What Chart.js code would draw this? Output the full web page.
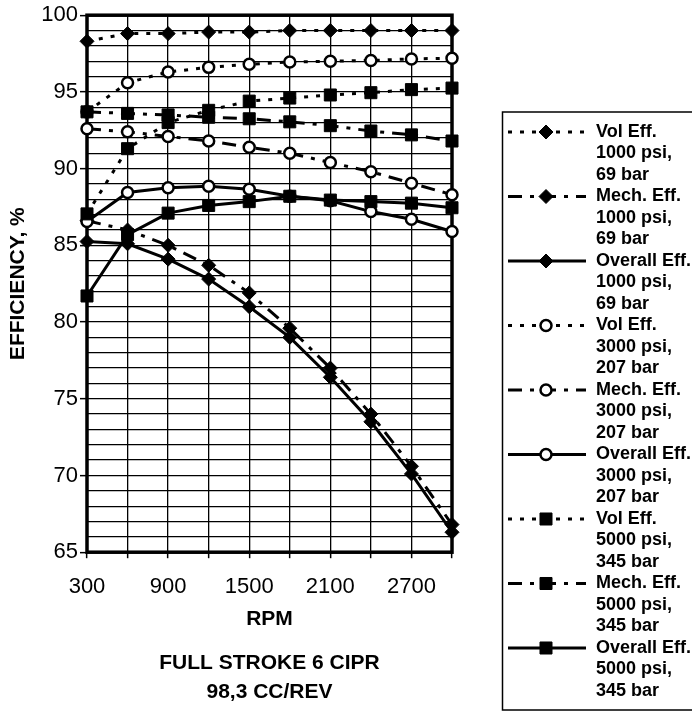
<!DOCTYPE html>
<html>
<head>
<meta charset="utf-8">
<script src="https://cdn.jsdelivr.net/npm/chart.js@4.4.1/dist/chart.umd.min.js"></script>
<style>
  html, body { margin: 0; padding: 0; background: #fff; }
</style>
</head>
<body>
<canvas id="chart" width="692" height="712"></canvas>
<script>
// Pump efficiency vs speed, three pressures (Chart.js).

const rpm = ['300', '600', '900', '1200', '1500', '1800', '2100', '2400', '2700', '3000'];

const vol1000     = [98.3, 98.8, 98.8, 98.9, 98.9, 99.0, 99.0, 99.0, 99.0, 99.0];
const mech1000    = [86.6, 86.0, 85.0, 83.7, 81.9, 79.6, 77.0, 74.0, 70.6, 66.8];
const overall1000 = [85.25, 85.1, 84.1, 82.8, 81.0, 79.0, 76.4, 73.5, 70.1, 66.3];

const vol3000     = [93.7, 95.6, 96.3, 96.6, 96.8, 96.95, 97.0, 97.05, 97.15, 97.2];
const mech3000    = [92.6, 92.4, 92.1, 91.8, 91.4, 91.0, 90.4, 89.8, 89.05, 88.3];
const overall3000 = [86.55, 88.45, 88.75, 88.85, 88.65, 88.2, 87.9, 87.2, 86.7, 85.9];

const vol5000     = [87.05, 91.3, 93.0, 93.8, 94.4, 94.6, 94.8, 94.95, 95.15, 95.25];
const mech5000    = [93.7, 93.6, 93.5, 93.35, 93.25, 93.05, 92.8, 92.45, 92.2, 91.8];
const overall5000 = [81.7, 85.7, 87.1, 87.6, 87.85, 88.2, 87.95, 87.85, 87.75, 87.45];

const legendText = [
  ['Vol Eff.', '1000 psi,', '69 bar'],
  ['Mech. Eff.', '1000 psi,', '69 bar'],
  ['Overall Eff.', '1000 psi,', '69 bar'],
  ['Vol Eff.', '3000 psi,', '207 bar'],
  ['Mech. Eff.', '3000 psi,', '207 bar'],
  ['Overall Eff.', '3000 psi,', '207 bar'],
  ['Vol Eff.', '5000 psi,', '345 bar'],
  ['Mech. Eff.', '5000 psi,', '345 bar'],
  ['Overall Eff.', '5000 psi,', '345 bar']
];

const xTitle = 'RPM';
const yTitle = 'EFFICIENCY, %';
const chartTitle = ['FULL STROKE 6 CIPR', '98,3 CC/REV'];

const FONT = '"Liberation Sans", Arial, Helvetica, sans-serif';
const DOTTED = [4, 8];
const DASHDOT = [14, 8, 4, 8];

const MARKERS = {
  diamond: {pointStyle: 'rectRot', pointRadius: 7, pointBackgroundColor: '#000', pointBorderWidth: 1},
  circle: {pointStyle: 'circle', pointRadius: 5.5, pointBackgroundColor: '#fff', pointBorderWidth: 2.5},
  square: {pointStyle: 'rect', pointRadius: 8.5, pointBackgroundColor: '#000', pointBorderWidth: 1}
};

function series(i, data, marker, dash) {
  const m = MARKERS[marker];
  return {
    label: legendText[i].join(' '),
    legendLines: legendText[i],
    data,
    borderColor: '#000',
    borderWidth: 3,
    borderDash: dash,
    pointStyle: m.pointStyle,
    pointRadius: m.pointRadius,
    pointHoverRadius: m.pointRadius,
    pointBackgroundColor: m.pointBackgroundColor,
    pointBorderColor: '#000',
    pointBorderWidth: m.pointBorderWidth,
    tension: 0,
    fill: false,
    clip: false,
    order: 8 - i
  };
}

// thick box around the plot area
const plotFrame = {
  id: 'plotFrame',
  beforeDatasetsDraw(chart) {
    const {ctx, chartArea: a} = chart;
    ctx.save();
    ctx.strokeStyle = '#000';
    ctx.lineWidth = 3.5;
    ctx.strokeRect(a.left, a.top, a.right - a.left, a.bottom - a.top);
    ctx.restore();
  }
};

// multi-line legend on the right, drawn from the datasets
const sideLegend = {
  id: 'sideLegend',
  afterDraw(chart) {
    const ctx = chart.ctx;
    const top = 132, step = 64.5, line = 21.5;
    ctx.save();
    ctx.strokeStyle = '#000';
    ctx.lineWidth = 1.5;
    ctx.strokeRect(502.5, top - 20, 220, 710 - (top - 20));
    ctx.font = 'bold 18px ' + FONT;
    ctx.textBaseline = 'middle';
    ctx.textAlign = 'left';
    chart.data.datasets.forEach((ds, i) => {
      const y = top + i * step;
      ctx.strokeStyle = '#000';
      ctx.lineWidth = ds.borderWidth;
      ctx.setLineDash(ds.borderDash || []);
      ctx.beginPath();
      ctx.moveTo(508, y);
      ctx.lineTo(586, y);
      ctx.stroke();
      ctx.setLineDash([]);
      ctx.fillStyle = ds.pointBackgroundColor;
      ctx.lineWidth = ds.pointBorderWidth;
      Chart.helpers.drawPoint(ctx, {
        pointStyle: ds.pointStyle, radius: ds.pointRadius, rotation: 0, borderWidth: ds.pointBorderWidth
      }, 546, y);
      ctx.fillStyle = '#000';
      ds.legendLines.forEach((t, j) => ctx.fillText(t, 596, y + j * line));
    });
    ctx.restore();
  }
};

new Chart(document.getElementById('chart'), {
  type: 'line',
  data: {
    labels: rpm,
    datasets: [
      series(0, vol1000, 'diamond', DOTTED),
      series(1, mech1000, 'diamond', DASHDOT),
      series(2, overall1000, 'diamond', []),
      series(3, vol3000, 'circle', DOTTED),
      series(4, mech3000, 'circle', DASHDOT),
      series(5, overall3000, 'circle', []),
      series(6, vol5000, 'square', DOTTED),
      series(7, mech5000, 'square', DASHDOT),
      series(8, overall5000, 'square', [])
    ]
  },
  options: {
    responsive: false,
    animation: false,
    layout: { padding: { left: 0, top: 15, right: 240, bottom: 0 } },
    plugins: {
      legend: { display: false },
      tooltip: { enabled: false },
      title: {
        display: true,
        position: 'bottom',
        fullSize: false,
        text: chartTitle,
        color: '#000',
        font: { family: FONT, size: 21, weight: 'bold', lineHeight: 1.4 },
        padding: { top: 8, bottom: 5 }
      }
    },
    scales: {
      x: {
        offset: false,
        afterFit: (s) => { s.height = 88; },
        border: { display: false },
        grid: { color: '#000', lineWidth: 1.3, tickLength: 6, tickColor: '#000', tickWidth: 1.5 },
        ticks: {
          autoSkip: false,
          maxRotation: 0,
          padding: 16,
          color: '#000',
          font: { family: FONT, size: 22 },
          callback: function (v, i) { return i % 2 === 0 ? this.getLabelForValue(v) : ''; }
        },
        title: {
          display: true,
          text: xTitle,
          color: '#000',
          font: { family: FONT, size: 21, weight: 'bold' },
          padding: { top: 4, bottom: 8 }
        }
      },
      y: {
        min: 65,
        max: 100,
        afterFit: (s) => { s.width = 87; },
        border: { display: false },
        grid: {
          color: '#000',
          lineWidth: 1.3,
          tickLength: 7,
          tickWidth: 1.5,
          tickColor: (c) => (c.tick && c.tick.value % 5 === 0 ? '#000' : 'rgba(0,0,0,0)')
        },
        ticks: {
          stepSize: 1,
          autoSkip: false,
          padding: 2,
          color: '#000',
          font: { family: FONT, size: 22 },
          callback: (v) => (v % 5 === 0 ? v : '')
        },
        title: {
          display: true,
          text: yTitle,
          color: '#000',
          font: { family: FONT, size: 21, weight: 'bold' },
          padding: { top: 6, bottom: 0 }
        }
      }
    }
  },
  plugins: [plotFrame, sideLegend]
});
</script>
</body>
</html>
